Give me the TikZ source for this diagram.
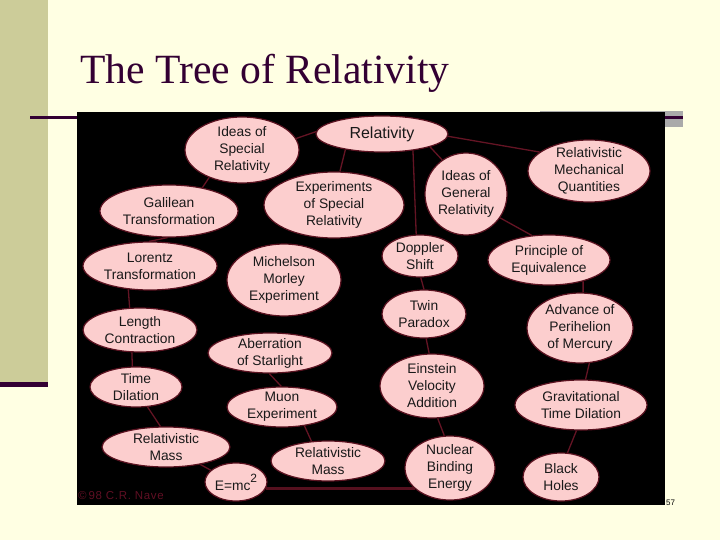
\documentclass[tikz,border=0pt]{standalone}
\usepackage{fontspec}
\setmainfont{Liberation Serif}
\newfontfamily\nodefont{Liberation Sans}
\newfontfamily\copyfont[LetterSpace=6]{Liberation Sans}
\usetikzlibrary{shapes.geometric}
\definecolor{bgc}{RGB}{255,255,227}
\definecolor{band}{RGB}{204,204,153}
\definecolor{dkp}{RGB}{51,0,51}
\definecolor{grayb}{RGB}{170,170,170}
\definecolor{pinkf}{RGB}{252,206,206}
\definecolor{rim}{RGB}{90,18,32}
\definecolor{conn}{RGB}{100,20,36}
\definecolor{heavyc}{RGB}{85,16,30}
\definecolor{txt}{RGB}{25,25,25}
\definecolor{copyc}{RGB}{95,15,35}
\pgfdeclarelayer{bottom}
\pgfdeclarelayer{links}
\pgfsetlayers{bottom,links,main}
\begin{document}
\begin{tikzpicture}[x=1pt,y=-1pt,
  ell/.style={ellipse, fill=pinkf, draw=rim, line width=1.2pt, inner sep=-4pt,
    align=center, text=txt, font=\nodefont\fontsize{13.8}{17}\selectfont},
  sz/.style 2 args={minimum width=#1pt, minimum height=#2pt},
  link/.style={draw=conn, line width=1.3pt},
  heavy/.style={draw=heavyc, line width=3pt},
]
\useasboundingbox (0,0) rectangle (720,540);
\begin{pgfonlayer}{bottom}
\fill[bgc] (0,0) rectangle (720,540);
\fill[band] (0,0) rectangle (48,382);
\fill[dkp] (0,382) rectangle (48,387);
\fill[grayb] (540,111) rectangle (683,127);
\fill[dkp] (30,116) rectangle (683,119);
\fill[black] (77,112) rectangle (665,505);
\end{pgfonlayer}

\node[anchor=base west, font=\fontsize{41.6}{42}\selectfont, text=dkp, inner sep=0pt] (title) at (80,84) {The Tree of Relativity};

\node[ell,sz={114}{66}] (isr) at (242,150) {Ideas of\\Special\\Relativity};
\node[ell,sz={132}{36},font=\nodefont\fontsize{16}{19}\selectfont] (rel) at (382,134) {Relativity};
\node[ell,sz={122}{62}] (rmq) at (589,171) {Relativistic\\Mechanical\\Quantities};
\node[ell,sz={138}{52}] (gal) at (169,211) {Galilean\\Transformation};
\node[ell,sz={140}{66}] (esr) at (334,205) {Experiments\\of Special\\Relativity};
\node[ell,sz={82}{82}] (igr) at (466,194) {Ideas of\\General\\Relativity};
\node[ell,sz={134}{48}] (lor) at (150,266) {Lorentz\\Transformation};
\node[ell,sz={114}{72}] (mm) at (284,280) {Michelson\\Morley\\Experiment};
\node[ell,sz={76}{42}] (dop) at (420,256) {Doppler\\Shift};
\node[ell,sz={122}{50}] (poe) at (549,260) {Principle of\\Equivalence};
\node[ell,sz={114}{44}] (lc) at (140,330) {Length\\Contraction};
\node[ell,sz={84}{48}] (twin) at (424,314) {Twin\\Paradox};
\node[ell,sz={124}{40}] (ab) at (270,353) {Aberration\\of Starlight};
\node[ell,sz={106}{70}] (adv) at (580,328) {Advance of\\Perihelion\\of Mercury};
\node[ell,sz={92}{40}] (td) at (136,387) {Time\\Dilation};
\node[ell,sz={104}{64}] (eva) at (432,386) {Einstein\\Velocity\\Addition};
\node[ell,sz={110}{40}] (muon) at (282,407) {Muon\\Experiment};
\node[ell,sz={132}{50}] (gtd) at (581,405) {Gravitational\\Time Dilation};
\node[ell,sz={128}{40}] (rml) at (166,447) {Relativistic\\Mass};
\node[ell,sz={62}{38}] (emc) at (236,482) {E=mc\raisebox{8pt}{\fontsize{12}{12}\selectfont 2}};
\node[ell,sz={114}{40}] (rmr) at (328,461) {Relativistic\\Mass};
\node[ell,sz={90}{64}] (nbe) at (450,468) {Nuclear\\Binding\\Energy};
\node[ell,sz={76}{48}] (bh) at (561,477) {Black\\Holes};

\begin{pgfonlayer}{links}
\draw[link] (isr.12) -- (rel.178);
\draw[link] (rel.-2) -- (rmq.159);
\draw[link] (rel.-15) -- (igr.125);
\draw[link] (rel.-28) -- (dop.100);
\draw[link] (rel.-157) -- (esr.80);
\draw[link] (isr.-140) -- (gal.35);
\draw[link] (gal.-93) -- (lor.92);
\draw[link] (lor.-133) -- (lc.115);
\draw[link] (lc.-110) -- (td.100);
\draw[link] (td.-60) -- (rml.105);
\draw[link] (rml.-27) -- (emc.155);
\draw[heavy] (emc.-12) -- (emc.-12 -| nbe.-150);
\draw[link] (ab.-92) -- (muon.92);
\draw[link] (muon.-40) -- (rmr.130);
\draw[link] (dop.-88) -- (twin.90);
\draw[link] (twin.-85) -- (eva.95);
\draw[link] (eva.-80) -- (nbe.100);
\draw[link] (igr.-35) -- (poe.125);
\draw[link] (poe.-32) -- (adv.85);
\draw[link] (adv.-75) -- (gtd.80);
\draw[link] (gtd.-100) -- (bh.75);
\end{pgfonlayer}

\node[anchor=west, font=\copyfont\fontsize{11.5}{12}\selectfont, text=copyc, inner sep=0pt] (copy) at (78,496) {\textcopyright\,98 C.R. Nave};
\node[anchor=base west, font=\nodefont\fontsize{8}{8}\selectfont, inner sep=0pt] (pg) at (666,505) {57};
\end{tikzpicture}
\end{document}
